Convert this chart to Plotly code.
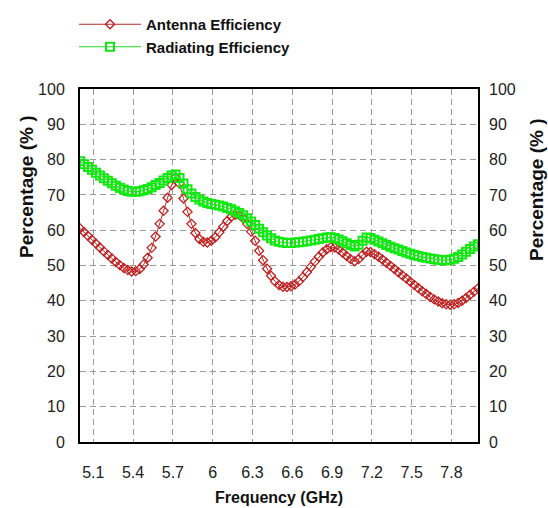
import plotly.graph_objects as go

# Frequency grid (GHz)
freq = [round(5.0 + 0.03 * i, 2) for i in range(101)]

antenna_eff = [
    60.5, 59.5, 58.4, 57.3, 56.2, 55.1, 54.0, 53.0, 52.0, 51.0,
    50.1, 49.3, 48.7, 48.3, 48.4, 49.0, 50.3, 52.2, 55.0, 58.2,
    61.8, 65.5, 69.2, 72.8, 75.0, 73.2, 69.0, 65.2, 61.8, 59.2,
    57.5, 56.7, 56.5, 57.0, 58.0, 59.4, 61.0, 62.6, 63.8, 64.4,
    64.3, 63.4, 61.8, 59.6, 57.0, 54.2, 51.5, 49.1, 47.1, 45.5,
    44.5, 44.0, 43.9, 44.1, 44.6, 45.5, 46.7, 48.1, 49.6, 51.1,
    52.5, 53.7, 54.6, 55.2, 55.1, 54.5, 53.6, 52.7, 51.8, 51.2,
    51.8, 53.0, 53.9, 53.8, 53.2, 52.5, 51.7, 50.8, 49.9, 49.0,
    48.1, 47.2, 46.3, 45.4, 44.5, 43.6, 42.7, 41.9, 41.1, 40.4,
    39.8, 39.3, 39.0, 38.9, 39.0, 39.4, 40.0, 40.8, 41.7, 42.6,
    43.5,
]

radiating_eff = [
    79.5, 78.7, 77.9, 77.1, 76.3, 75.5, 74.7, 74.0, 73.3, 72.6,
    72.0, 71.5, 71.1, 70.9, 70.9, 71.0, 71.3, 71.7, 72.2, 72.8,
    73.4, 74.1, 74.8, 75.5, 75.8, 74.8, 73.2, 71.6, 70.4, 69.4,
    68.7, 68.1, 67.7, 67.4, 67.2, 67.0, 66.7, 66.3, 65.9, 65.4,
    64.9, 64.2, 63.4, 62.5, 61.5, 60.4, 59.4, 58.5, 57.7, 57.1,
    56.7, 56.5, 56.4, 56.4, 56.5, 56.6, 56.7, 56.9, 57.1, 57.3,
    57.5, 57.7, 57.9, 58.0, 57.8, 57.4, 56.9, 56.3, 55.8, 55.4,
    55.9, 57.0, 57.9, 57.8, 57.3, 56.8, 56.3, 55.8, 55.3, 54.9,
    54.5, 54.1, 53.7, 53.3, 53.0, 52.7, 52.4, 52.2, 52.0, 51.8,
    51.6, 51.5, 51.5, 51.6, 51.9, 52.4, 53.1, 53.9, 54.7, 55.4,
    56.0,
]

x_ticks = [5.1, 5.4, 5.7, 6.0, 6.3, 6.6, 6.9, 7.2, 7.5, 7.8]
x_ticklabels = ["5.1", "5.4", "5.7", "6", "6.3", "6.6", "6.9", "7.2", "7.5", "7.8"]
y_ticks = list(range(0, 101, 10))

SANS = "Liberation Sans, Arial, sans-serif"

fig = go.Figure()
fig.add_trace(go.Scatter(
    x=freq, y=antenna_eff, name="Antenna Efficiency", mode="lines+markers",
    line=dict(color="#b42828", width=1),
    marker=dict(symbol="diamond-open", size=7, color="#c02020", line=dict(width=1.3)),
))
fig.add_trace(go.Scatter(
    x=freq, y=radiating_eff, name="Radiating Efficiency", mode="lines+markers",
    line=dict(color="#22d822", width=1),
    marker=dict(symbol="square-open", size=8, color="#11e811", line=dict(width=2)),
))
# Dummy trace so the right-hand axis is drawn
fig.add_trace(go.Scatter(x=[None], y=[None], yaxis="y2", showlegend=False, hoverinfo="skip"))

axis_common = dict(
    showline=True, linecolor="black", linewidth=2, mirror=True,
    tickfont=dict(family=SANS, size=16, color="#222"),
    ticks="", zeroline=False,
)

fig.update_layout(
    width=548, height=508,
    margin=dict(l=80, r=70, t=89, b=66, autoexpand=False),
    paper_bgcolor="white", plot_bgcolor="white",
    xaxis=dict(
        range=[5.0, 8.0], tickvals=x_ticks, ticktext=x_ticklabels,
        showgrid=True, gridcolor="#9a9a9a", gridwidth=1, griddash="6px,4px",
        ticklabelstandoff=15, **axis_common,
    ),
    yaxis=dict(
        range=[0, 100], tickvals=y_ticks,
        showgrid=True, gridcolor="#9a9a9a", gridwidth=1, griddash="6px,4px",
        ticklabelstandoff=10, **axis_common,
    ),
    yaxis2=dict(
        range=[0, 100], tickvals=y_ticks, overlaying="y", side="right",
        showgrid=False, showline=False, ticks="", zeroline=False,
        tickfont=dict(family=SANS, size=16, color="#222"),
        ticklabelstandoff=10,
    ),
    legend=dict(
        xref="container", yref="container", x=74 / 548, y=1 - 8 / 508,
        xanchor="left", yanchor="top",
        font=dict(family=SANS, size=15, color="#111", weight="bold"),
        bgcolor="rgba(0,0,0,0)", itemwidth=62, tracegroupgap=0,
    ),
    showlegend=True,
    annotations=[
        dict(text="Percentage (% )", xref="paper", yref="paper",
             x=(26 - 80) / 398, y=(442 - 187) / 353, textangle=-90,
             showarrow=False, xanchor="center", yanchor="middle",
             font=dict(family=SANS, size=19, color="#111", weight="bold")),
        dict(text="Percentage (% )", xref="paper", yref="paper",
             x=(536 - 80) / 398, y=(442 - 190) / 353, textangle=-90,
             showarrow=False, xanchor="center", yanchor="middle",
             font=dict(family=SANS, size=19, color="#111", weight="bold")),
        dict(text="Frequency (GHz)", xref="paper", yref="paper",
             x=0.5, y=(442 - 497) / 353,
             showarrow=False, xanchor="center", yanchor="middle",
             font=dict(family=SANS, size=16, color="#111", weight="bold")),
    ],
)

fig.write_html("out.html")
